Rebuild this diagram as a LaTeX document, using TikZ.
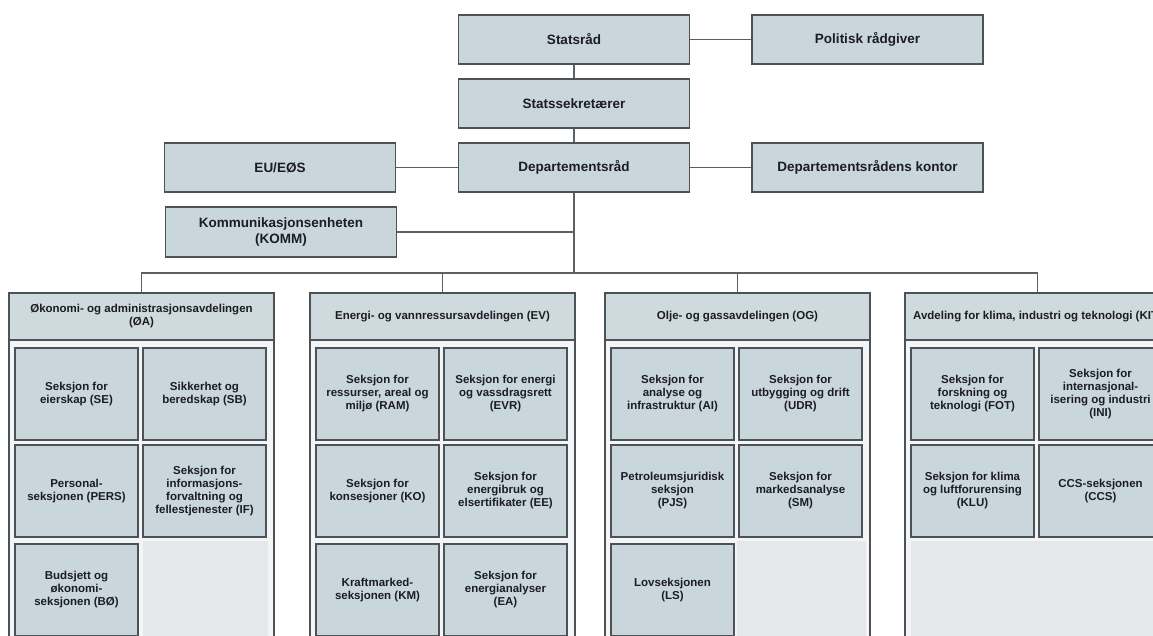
\documentclass[tikz,border=0pt]{standalone}
\usepackage{fontspec}
\setmainfont{Liberation Sans}
\usepackage{xcolor}
\usepackage{tikz}
\usetikzlibrary{shapes, arrows.meta, positioning}

\definecolor{boxfill}{HTML}{C9D7DC}
\definecolor{headfill}{HTML}{CFDADF}
\definecolor{panelfill}{HTML}{F3F5F6}
\definecolor{emptyfill}{HTML}{E4E8EA}
\definecolor{edge}{HTML}{4C5256}
\definecolor{wire}{HTML}{5A6064}
\definecolor{ink}{HTML}{1C1C24}

\newcommand{\bigtext}{\fontsize{13.5}{15.5}\selectfont\bfseries}
\newcommand{\smalltext}{\fontsize{11.5}{13}\selectfont\bfseries}

\begin{document}
\begin{tikzpicture}
  [
    x=1pt, y=-1pt,
    Top/.style={rectangle, draw=edge, fill=boxfill, line width=1.8pt, minimum width=231pt, minimum height=49pt, align=center, text=ink, font=\bigtext},
    Head/.style={rectangle, draw=edge, fill=headfill, line width=1.4pt, minimum width=265pt, minimum height=47pt, align=center, text=ink, font=\smalltext},
    Sect/.style={rectangle, draw=edge, fill=boxfill, line width=1.4pt, minimum width=123pt, minimum height=92pt, align=center, text=ink, font=\smalltext},
    Panel/.style={draw=edge, fill=panelfill, line width=1.4pt},
    Empty/.style={fill=emptyfill},
    Wire/.style={draw=wire, line width=1.3pt}
  ]
  \useasboundingbox[fill=white] (0,0) rectangle (1153,635);

  % Panels
  \foreach \l in {9, 310, 605, 905}
    \path [Panel] (\l, 293) rectangle (\l+265, 650);
  \path [Empty] (143, 541) rectangle (268, 640);
  \path [Empty] (737, 541) rectangle (866, 640);
  \path [Empty] (911, 541) rectangle (1170, 640);

  % Nodes
  \node[Top] (stat) at(574, 39.5) {Statsråd};

  \node[Top] (pol) at(867.5, 39.5) {Politisk rådgiver};

  \node[Top] (sek) at(574, 103.5) {Statssekretærer};

  \node[Top] (dep) at(574, 167.5) {Departementsråd};

  \node[Top] (eu) at(280, 167.5) {EU/EØS};

  \node[Top] (kont) at(867.5, 167.5) {Departementsrådens kontor};

  \node[Top, minimum height=50pt] (komm) at(281, 232) {Kommunikasjonsenheten\\(KOMM)};

  \coordinate (jn) at(574, 273);

  \node[Head] (oa) at(141.5, 316.5) {Økonomi- og administrasjonsavdelingen\\(ØA)};
  \node[Head] (ev) at(442.5, 316.5) {Energi- og vannressursavdelingen (EV)};
  \node[Head] (og) at(737.5, 316.5) {Olje- og gassavdelingen (OG)};
  \node[Head] (kit) at(1037.5, 316.5) {Avdeling for klima, industri og teknologi (KIT)};

  \node[Sect] (se) at(76.5, 394) {Seksjon for\\eierskap (SE)};
  \node[Sect] (sb) at(204.5, 394) {Sikkerhet og\\beredskap (SB)};
  \node[Sect] (pers) at(76.5, 491) {Personal-\\seksjonen (PERS)};
  \node[Sect] (inf) at(204.5, 491) {Seksjon for\\informasjons-\\forvaltning og\\fellestjenester (IF)};
  \node[Sect] (bo) at(76.5, 590) {Budsjett og\\økonomi-\\seksjonen (BØ)};

  \node[Sect] (ram) at(377.5, 394) {Seksjon for\\ressurser, areal og\\miljø (RAM)};
  \node[Sect] (evr) at(505.5, 394) {Seksjon for energi\\og vassdragsrett\\(EVR)};
  \node[Sect] (ko) at(377.5, 491) {Seksjon for\\konsesjoner (KO)};
  \node[Sect] (ee) at(505.5, 491) {Seksjon for\\energibruk og\\elsertifikater (EE)};
  \node[Sect] (km) at(377.5, 590) {Kraftmarked-\\seksjonen (KM)};
  \node[Sect] (ea) at(505.5, 590) {Seksjon for\\energianalyser\\(EA)};

  \node[Sect] (ai) at(672.5, 394) {Seksjon for\\analyse og\\infrastruktur (AI)};
  \node[Sect] (udr) at(800.5, 394) {Seksjon for\\utbygging og drift\\(UDR)};
  \node[Sect] (pjs) at(672.5, 491) {Petroleumsjuridisk\\seksjon\\(PJS)};
  \node[Sect] (sm) at(800.5, 491) {Seksjon for\\markedsanalyse\\(SM)};
  \node[Sect] (ls) at(672.5, 590) {Lovseksjonen\\(LS)};

  \node[Sect] (fot) at(972.5, 394) {Seksjon for\\forskning og\\teknologi (FOT)};
  \node[Sect] (ini) at(1100.5, 394) {Seksjon for\\internasjonal-\\isering og industri\\(INI)};
  \node[Sect] (klu) at(972.5, 491) {Seksjon for klima\\og luftforurensing\\(KLU)};
  \node[Sect] (ccs) at(1100.5, 491) {CCS-seksjonen\\(CCS)};

  % Lines
  \path [Wire] (stat) -- (pol);
  \path [Wire] (stat) -- (sek);
  \path [Wire] (sek) -- (dep);
  \path [Wire] (dep) -- (eu);
  \path [Wire] (dep) -- (kont);
  \path [Wire] (dep) -- (jn);
  \path [Wire] (komm) -- (komm -| dep);
  \path [Wire] (oa) |- (jn) -| (kit);
  \path [Wire] (ev) |- (jn);
  \path [Wire] (og) |- (jn);

\end{tikzpicture}
\end{document}
